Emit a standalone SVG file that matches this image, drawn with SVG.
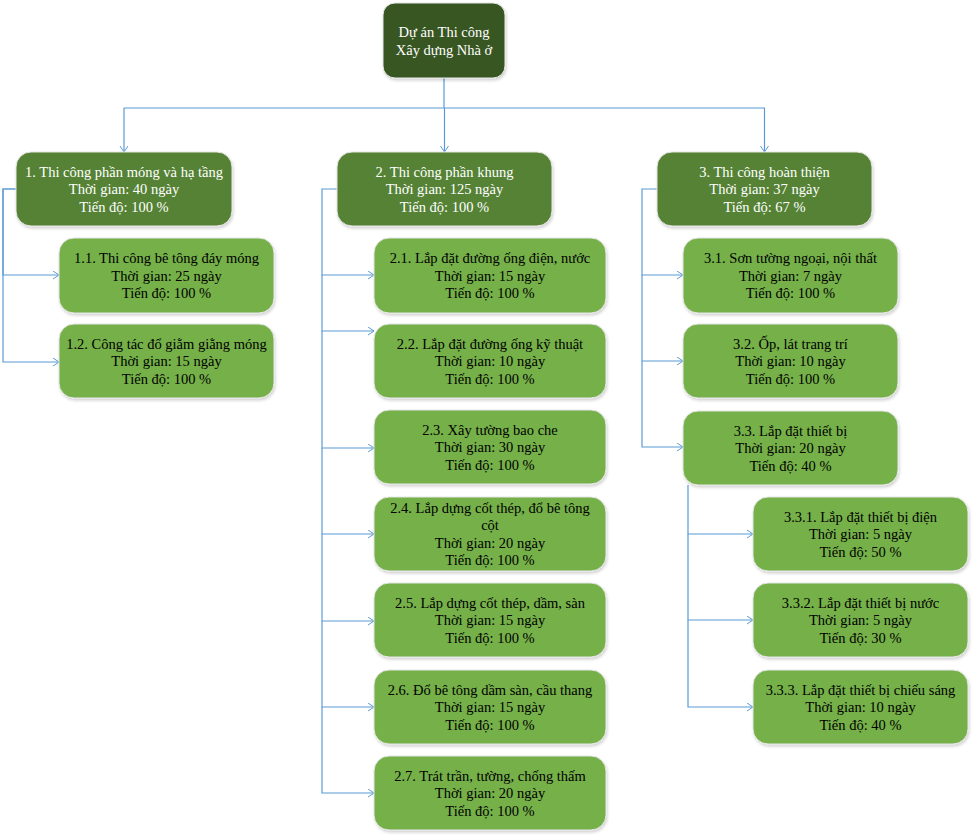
<svg xmlns="http://www.w3.org/2000/svg" width="974" height="839" viewBox="0 0 974 839">
<defs>
<style>
.root{fill:#375623;stroke:#e6e6e6;stroke-width:1;filter:url(#sh)}
.l1{fill:#548235;stroke:#e6e6e6;stroke-width:1;filter:url(#sh)}
.l2{fill:#75b04a;stroke:#e6e6e6;stroke-width:1;filter:url(#sh)}
text{font-family:"Liberation Serif","Times New Roman",serif;font-size:14.5px;text-anchor:middle}
.w{fill:#ffffff}
.b{fill:#000000}
.c{fill:none;stroke:#5b9bd5;stroke-width:1.2;marker-end:url(#ar)}
.cn{fill:none;stroke:#5b9bd5;stroke-width:1.2}
</style>
<filter id="sh" x="-10%" y="-10%" width="130%" height="140%">
<feDropShadow dx="1" dy="2" stdDeviation="1.5" flood-color="#000" flood-opacity="0.18"/>
</filter>
<marker id="ar" markerUnits="userSpaceOnUse" markerWidth="8" markerHeight="10" refX="6" refY="4" orient="auto">
<path d="M0,0 L6,4 L0,8" fill="none" stroke="#5b9bd5" stroke-width="1"/>
</marker>
</defs>
<g id="connectors">
<path class="cn" d="M444 78 V108 M124 108 H765"/>
<path class="c" d="M124 108 V152"/>
<path class="c" d="M444.5 108 V152"/>
<path class="c" d="M764.5 108 V152"/>
<path class="c" d="M16 189 H3 V275 H59"/>
<path class="c" d="M16 189 H3 V362 H59"/>
<path class="c" d="M337 189 H322 V275 H374"/>
<path class="c" d="M322 275 V331 H374"/>
<path class="c" d="M322 331 V448 H374"/>
<path class="c" d="M322 448 V534 H374"/>
<path class="c" d="M322 534 V621 H374"/>
<path class="c" d="M322 621 V707 H374"/>
<path class="c" d="M322 707 V793 H374"/>
<path class="c" d="M657 189 H642 V275 H683"/>
<path class="c" d="M642 275 V361 H683"/>
<path class="c" d="M642 361 V447 H683"/>
<path class="c" d="M688 485 V534 H753"/>
<path class="c" d="M688 534 V620 H753"/>
<path class="c" d="M688 620 V707 H753"/>
</g>
<g id="root">
<rect class="root" x="383" y="3" width="122" height="75" rx="12"/>
<text class="w" x="444" y="37">Dự án Thi công</text>
<text class="w" x="444" y="55">Xây dựng Nhà ở</text>
</g>
<g id="n1">
<rect class="l1" x="16" y="152" width="216" height="74" rx="15"/>
<text class="w" x="124" y="176.5">1. Thi công phần móng và hạ tầng</text>
<text class="w" x="124" y="194">Thời gian: 40 ngày</text>
<text class="w" x="124" y="211.5">Tiến độ: 100 %</text>
</g>
<g id="n2">
<rect class="l1" x="337" y="152" width="215" height="74" rx="15"/>
<text class="w" x="444.5" y="176.5">2. Thi công phần khung</text>
<text class="w" x="444.5" y="194">Thời gian: 125 ngày</text>
<text class="w" x="444.5" y="211.5">Tiến độ: 100 %</text>
</g>
<g id="n3">
<rect class="l1" x="657" y="152" width="215" height="74" rx="15"/>
<text class="w" x="764.5" y="176.5">3. Thi công hoàn thiện</text>
<text class="w" x="764.5" y="194">Thời gian: 37 ngày</text>
<text class="w" x="764.5" y="211.5">Tiến độ: 67 %</text>
</g>
<g id="n1-1">
<rect class="l2" x="59" y="238" width="215" height="75" rx="15"/>
<text class="b" x="166.5" y="263">1.1. Thi công bê tông đáy móng</text>
<text class="b" x="166.5" y="280.5">Thời gian: 25 ngày</text>
<text class="b" x="166.5" y="298">Tiến độ: 100 %</text>
</g>
<g id="n1-2">
<rect class="l2" x="59" y="324" width="215" height="74" rx="15"/>
<text class="b" x="166.5" y="348.5">1.2. Công tác đổ giằm giằng móng</text>
<text class="b" x="166.5" y="366">Thời gian: 15 ngày</text>
<text class="b" x="166.5" y="383.5">Tiến độ: 100 %</text>
</g>
<g id="n2-1">
<rect class="l2" x="374" y="238" width="232" height="75" rx="15"/>
<text class="b" x="490" y="263">2.1. Lắp đặt đường ống điện, nước</text>
<text class="b" x="490" y="280.5">Thời gian: 15 ngày</text>
<text class="b" x="490" y="298">Tiến độ: 100 %</text>
</g>
<g id="n2-2">
<rect class="l2" x="374" y="324" width="232" height="74" rx="15"/>
<text class="b" x="490" y="348.5">2.2. Lắp đặt đường ống kỹ thuật</text>
<text class="b" x="490" y="366">Thời gian: 10 ngày</text>
<text class="b" x="490" y="383.5">Tiến độ: 100 %</text>
</g>
<g id="n2-3">
<rect class="l2" x="374" y="410" width="232" height="74" rx="15"/>
<text class="b" x="490" y="434.5">2.3. Xây tường bao che</text>
<text class="b" x="490" y="452">Thời gian: 30 ngày</text>
<text class="b" x="490" y="469.5">Tiến độ: 100 %</text>
</g>
<g id="n2-4">
<rect class="l2" x="374" y="497" width="232" height="74" rx="15"/>
<text class="b" x="490" y="512.5">2.4. Lắp dựng cốt thép, đổ bê tông</text>
<text class="b" x="490" y="530">cột</text>
<text class="b" x="490" y="547.5">Thời gian: 20 ngày</text>
<text class="b" x="490" y="565">Tiến độ: 100 %</text>
</g>
<g id="n2-5">
<rect class="l2" x="374" y="583" width="232" height="74" rx="15"/>
<text class="b" x="490" y="607.5">2.5. Lắp dựng cốt thép, dầm, sàn</text>
<text class="b" x="490" y="625">Thời gian: 15 ngày</text>
<text class="b" x="490" y="642.5">Tiến độ: 100 %</text>
</g>
<g id="n2-6">
<rect class="l2" x="374" y="670" width="232" height="74" rx="15"/>
<text class="b" x="490" y="694.5">2.6. Đổ bê tông dầm sàn, cầu thang</text>
<text class="b" x="490" y="712">Thời gian: 15 ngày</text>
<text class="b" x="490" y="729.5">Tiến độ: 100 %</text>
</g>
<g id="n2-7">
<rect class="l2" x="374" y="756" width="232" height="74" rx="15"/>
<text class="b" x="490" y="780.5">2.7. Trát trần, tường, chống thấm</text>
<text class="b" x="490" y="798">Thời gian: 20 ngày</text>
<text class="b" x="490" y="815.5">Tiến độ: 100 %</text>
</g>
<g id="n3-1">
<rect class="l2" x="683" y="238" width="215" height="75" rx="15"/>
<text class="b" x="790.5" y="263">3.1. Sơn tường ngoại, nội thất</text>
<text class="b" x="790.5" y="280.5">Thời gian: 7 ngày</text>
<text class="b" x="790.5" y="298">Tiến độ: 100 %</text>
</g>
<g id="n3-2">
<rect class="l2" x="683" y="324" width="215" height="74" rx="15"/>
<text class="b" x="790.5" y="348.5">3.2. Ốp, lát trang trí</text>
<text class="b" x="790.5" y="366">Thời gian: 10 ngày</text>
<text class="b" x="790.5" y="383.5">Tiến độ: 100 %</text>
</g>
<g id="n3-3">
<rect class="l2" x="683" y="411" width="215" height="74" rx="15"/>
<text class="b" x="790.5" y="435.5">3.3. Lắp đặt thiết bị</text>
<text class="b" x="790.5" y="453">Thời gian: 20 ngày</text>
<text class="b" x="790.5" y="470.5">Tiến độ: 40 %</text>
</g>
<g id="n3-3-1">
<rect class="l2" x="753" y="497" width="215" height="74" rx="15"/>
<text class="b" x="860.5" y="521.5">3.3.1. Lắp đặt thiết bị điện</text>
<text class="b" x="860.5" y="539">Thời gian: 5 ngày</text>
<text class="b" x="860.5" y="556.5">Tiến độ: 50 %</text>
</g>
<g id="n3-3-2">
<rect class="l2" x="753" y="583" width="215" height="74" rx="15"/>
<text class="b" x="860.5" y="607.5">3.3.2. Lắp đặt thiết bị nước</text>
<text class="b" x="860.5" y="625">Thời gian: 5 ngày</text>
<text class="b" x="860.5" y="642.5">Tiến độ: 30 %</text>
</g>
<g id="n3-3-3">
<rect class="l2" x="753" y="670" width="215" height="74" rx="15"/>
<text class="b" x="860.5" y="694.5">3.3.3. Lắp đặt thiết bị chiếu sáng</text>
<text class="b" x="860.5" y="712">Thời gian: 10 ngày</text>
<text class="b" x="860.5" y="729.5">Tiến độ: 40 %</text>
</g>
</svg>
